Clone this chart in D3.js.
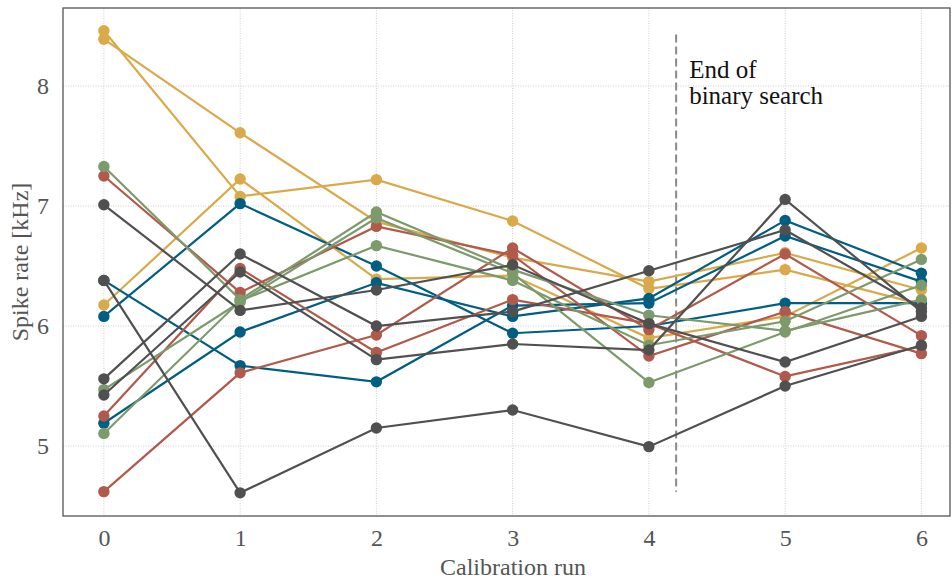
<!DOCTYPE html>
<html>
<head>
<meta charset="utf-8">
<script src="https://cdn.jsdelivr.net/npm/d3@7"></script>
<style>
  body { margin: 0; background: #fff; }
  svg text { font-family: "Liberation Serif", "DejaVu Serif", serif; }
</style>
</head>
<body>
<svg id="chart"></svg>
<script>
const svgWidth = 952;
const svgHeight = 582;
const margin = {top: 8, right: 2, bottom: 66, left: 63};

// calibration runs 0..6
const runs = [0, 1, 2, 3, 4, 5, 6];
const xTicks = [0, 1, 2, 3, 4, 5, 6];
const yTicks = [5, 6, 7, 8];

// spike rates in kHz, one array per neuron
const gold1 = [8.46, 7.08, 7.22, 6.875, 6.31, 6.47, 6.18];
const gold2 = [8.39, 7.61, 6.87, 6.57, 6.37, 6.61, 6.30];
const gold3 = [6.175, 7.225, 6.39, 6.42, 5.90, 6.08, 6.65];
const blue1 = [6.38, 5.67, 5.535, 6.17, 6.19, 6.75, 6.37];
const blue2 = [6.08, 7.02, 6.50, 5.94, 6.00, 6.19, 6.19];
const blue3 = [5.19, 5.95, 6.36, 6.08, 6.23, 6.88, 6.44];
const red1 = [7.25, 6.28, 6.83, 6.59, 5.75, 6.12, 5.77];
const red2 = [5.25, 6.48, 5.78, 6.22, 6.02, 5.58, 5.83];
const red3 = [4.62, 5.61, 5.925, 6.65, 5.97, 6.60, 5.92];
const green1 = [7.33, 6.22, 6.95, 6.47, 6.09, 5.96, 6.22];
const green2 = [5.47, 6.20, 6.90, 6.44, 5.53, 5.95, 6.34];
const green3 = [5.105, 6.21, 6.67, 6.38, 5.84, 6.04, 6.555];
const gray1 = [7.01, 6.13, 6.30, 6.51, 6.02, 5.70, 6.08];
const gray2 = [6.38, 4.61, 5.15, 5.30, 4.995, 5.50, 5.84];
const gray3 = [5.56, 6.60, 6.00, 6.12, 6.46, 6.80, 6.15];
const gray4 = [5.425, 6.45, 5.72, 5.85, 5.80, 7.055, 6.12];

const series = [
  {values: gold1, color: '#daa94a'}, {values: gold2, color: '#daa94a'}, {values: gold3, color: '#daa94a'},
  {values: blue1, color: '#005e83'}, {values: blue2, color: '#005e83'}, {values: blue3, color: '#005e83'},
  {values: red1, color: '#b05a4c'}, {values: red2, color: '#b05a4c'}, {values: red3, color: '#b05a4c'},
  {values: green1, color: '#7d9a6c'}, {values: green2, color: '#7d9a6c'}, {values: green3, color: '#7d9a6c'},
  {values: gray1, color: '#505050'}, {values: gray2, color: '#505050'}, {values: gray3, color: '#505050'}, {values: gray4, color: '#505050'}
];

// end of binary search marker
const searchEnd = 4.2;
const searchSpan = [4.62, 8.43];
const noteLines = ['End of', 'binary search'];

const plotW = svgWidth - margin.left - margin.right;
const plotH = svgHeight - margin.top - margin.bottom;

const svg = d3.select('#chart')
  .attr('width', svgWidth)
  .attr('height', svgHeight);

const g = svg.append('g')
  .attr('transform', `translate(${margin.left},${margin.top})`);

const x = d3.scaleLinear().domain([-0.3, 6.21]).range([0, plotW]);
const y = d3.scaleLinear().domain([4.417, 8.65]).range([plotH, 0]);

// dotted grid
g.append('g').selectAll('line').data(xTicks).join('line')
  .attr('x1', d => x(d)).attr('x2', d => x(d))
  .attr('y1', 0).attr('y2', plotH)
  .attr('stroke', '#c8c8c8').attr('stroke-width', 0.9)
  .attr('stroke-dasharray', '1,1.5');
g.append('g').selectAll('line').data(yTicks).join('line')
  .attr('x1', 0).attr('x2', plotW)
  .attr('y1', d => y(d)).attr('y2', d => y(d))
  .attr('stroke', '#c8c8c8').attr('stroke-width', 0.9)
  .attr('stroke-dasharray', '1,1.5');

// axes without tick marks
const xAxis = g.append('g')
  .attr('transform', `translate(0,${plotH})`)
  .call(d3.axisBottom(x).tickValues(xTicks).tickFormat(d3.format('d')).tickSize(0).tickPadding(13));
const yAxis = g.append('g')
  .call(d3.axisLeft(y).tickValues(yTicks).tickFormat(d3.format('d')).tickSize(0).tickPadding(14));
[xAxis, yAxis].forEach(a => {
  a.select('.domain').remove();
  a.selectAll('text')
    .attr('fill', '#555')
    .style('font-size', '24px')
    .style('font-family', '"Liberation Serif", serif');
});

// frame
g.append('rect')
  .attr('width', plotW).attr('height', plotH)
  .attr('fill', 'none')
  .attr('stroke', '#555').attr('stroke-width', 1.3);

// dashed marker
g.append('line')
  .attr('x1', x(searchEnd)).attr('x2', x(searchEnd))
  .attr('y1', y(searchSpan[1])).attr('y2', y(searchSpan[0]))
  .attr('stroke', '#8a8a8a').attr('stroke-width', 2)
  .attr('stroke-dasharray', '8,4');

g.append('text')
  .attr('x', x(searchEnd) + 13)
  .attr('y', y(searchSpan[1]) + 44)
  .attr('fill', '#111')
  .style('font-size', '25px')
  .selectAll('tspan').data(noteLines).join('tspan')
  .attr('x', x(searchEnd) + 13)
  .attr('dy', (d, i) => i === 0 ? 0 : 26)
  .text(d => d);

// lines and markers
const line = d3.line().x((d, i) => x(runs[i])).y(d => y(d));

series.forEach(s => {
  g.append('path')
    .attr('d', line(s.values))
    .attr('fill', 'none')
    .attr('stroke', s.color)
    .attr('stroke-width', 2.2);
  g.append('g').selectAll('circle').data(s.values).join('circle')
    .attr('cx', (d, i) => x(runs[i]))
    .attr('cy', d => y(d))
    .attr('r', 5.7)
    .attr('fill', s.color);
});

// axis titles
svg.append('text')
  .attr('x', 513)
  .attr('y', 575)
  .attr('text-anchor', 'middle')
  .attr('fill', '#555')
  .style('font-size', '24px')
  .text('Calibration run');

svg.append('text')
  .attr('transform', `translate(28,${margin.top + plotH / 2}) rotate(-90)`)
  .attr('text-anchor', 'middle')
  .attr('fill', '#555')
  .style('font-size', '24px')
  .text('Spike rate [kHz]');
</script>
</body>
</html>
